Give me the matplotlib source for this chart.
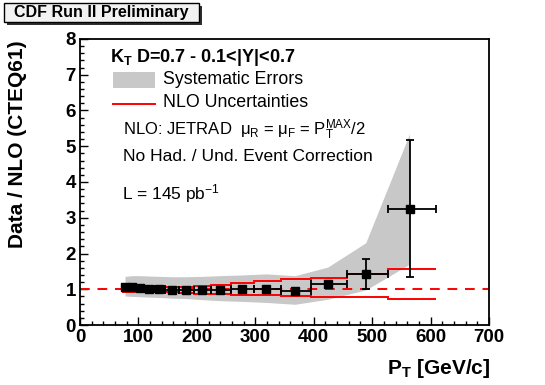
import numpy as np
import matplotlib
matplotlib.use('Agg')
import matplotlib.pyplot as plt
from matplotlib.patches import Rectangle
from matplotlib.lines import Line2D
from matplotlib.ticker import MultipleLocator

plt.rcParams['font.family'] = ['Liberation Sans', 'DejaVu Sans']
plt.rcParams['mathtext.fontset'] = 'custom'
plt.rcParams['mathtext.rm'] = 'Liberation Sans'
plt.rcParams['mathtext.it'] = 'Liberation Sans'
plt.rcParams['mathtext.bf'] = 'Liberation Sans:bold'

# Data
bin_edges = np.array([72, 83, 96, 110, 127, 146, 169, 195, 224, 259, 298, 344, 396, 457, 527, 609])
pt = np.array([77, 89, 103, 118, 136, 157, 181, 208, 240, 277, 319, 368, 424, 489, 564])
ratio = np.array([1.07, 1.05, 1.04, 1.02, 1.00, 0.99, 0.98, 0.99, 0.99, 1.00, 1.01, 0.94, 1.14, 1.43, 3.25])
stat_lo = np.array([0.02, 0.02, 0.02, 0.02, 0.02, 0.02, 0.02, 0.02, 0.02, 0.03, 0.03, 0.04, 0.06, 0.42, 1.90])
stat_hi = np.array([0.02, 0.02, 0.02, 0.02, 0.02, 0.02, 0.02, 0.02, 0.02, 0.03, 0.03, 0.04, 0.06, 0.42, 1.92])
sys_up = np.array([1.36, 1.38, 1.38, 1.37, 1.36, 1.35, 1.35, 1.36, 1.38, 1.40, 1.43, 1.38, 1.62, 2.30, 5.35])
sys_dn = np.array([0.81, 0.80, 0.79, 0.78, 0.77, 0.75, 0.74, 0.71, 0.68, 0.66, 0.63, 0.58, 0.72, 0.98, 1.70])
nlo_up = np.array([1.10, 1.09, 1.08, 1.07, 1.06, 1.06, 1.07, 1.09, 1.12, 1.17, 1.24, 1.28, 1.32, 1.43, 1.57])
nlo_dn = np.array([0.93, 0.93, 0.93, 0.92, 0.92, 0.91, 0.90, 0.88, 0.86, 0.84, 0.83, 0.80, 0.78, 0.77, 0.74])

W, H = 545, 385
fig = plt.figure(figsize=(W / 100, H / 100), dpi=100)
fig.patch.set_facecolor('white')
ax = fig.add_axes([80 / W, (H - 325) / H, 409 / W, 286 / H])

# Systematic band
ax.fill_between(pt, sys_dn, sys_up, color='#c8c8c8', lw=0, zorder=1)

# NLO uncertainty steps
ax.stairs(nlo_up, bin_edges, baseline=None, color='#ff0000', lw=1.4, zorder=2)
ax.stairs(nlo_dn, bin_edges, baseline=None, color='#ff0000', lw=1.4, zorder=2)

# Unity line
ax.axhline(1.0, color='#ff0000', lw=1.4, ls=(0, (5, 4)), zorder=2)

# Data points
xerr = [pt - bin_edges[:-1], bin_edges[1:] - pt]
ax.errorbar(pt, ratio, xerr=xerr, yerr=[stat_lo, stat_hi], fmt='s', color='black',
            ms=6, lw=1.3, capsize=3, capthick=1.3, zorder=3)

ax.set_xlim(0, 700)
ax.set_ylim(0, 8)
ax.xaxis.set_major_locator(MultipleLocator(100))
ax.xaxis.set_minor_locator(MultipleLocator(20))
ax.yaxis.set_major_locator(MultipleLocator(1))
ax.yaxis.set_minor_locator(MultipleLocator(0.2))
ax.tick_params(which='both', direction='in', top=False, right=False, width=1.0)
ax.tick_params(which='major', length=6)
ax.tick_params(which='minor', length=3)
ax.tick_params(axis='y', pad=3)
ax.tick_params(axis='x', pad=3)
for lab in ax.get_xticklabels() + ax.get_yticklabels():
    lab.set_fontsize(13.5)
    lab.set_fontweight('bold')
for s in ax.spines.values():
    s.set_linewidth(1.3)

# Axis titles
fig.text(18 / W, 1 - 40 / H, 'Data / NLO (CTEQ61)', rotation=90, ha='center', va='top',
         fontsize=15, fontweight='bold')
fig.text(490 / W, 1 - 368 / H, r'P$_\mathbf{T}$ [GeV/c]', ha='right', va='center',
         fontsize=15, fontweight='bold')

# Legend-like block
def axf(px, py):
    return (px - 80) / 409, (325 - py) / 286

x0, y0 = axf(110, 58)
ax.text(x0, y0, r'K$_\mathbf{T}$ D=0.7 - 0.1<|Y|<0.7', transform=ax.transAxes,
        ha='left', va='center', fontsize=13, fontweight='bold')

px0, py0 = axf(113, 88)
px1, py1 = axf(155, 72)
ax.add_patch(Rectangle((px0, py0), px1 - px0, py1 - py0, transform=ax.transAxes,
                       facecolor='#c8c8c8', edgecolor='none', clip_on=False))
tx, ty = axf(163, 80)
ax.text(tx, ty, 'Systematic Errors', transform=ax.transAxes, ha='left', va='center', fontsize=12.8)

lx0, ly = axf(113, 104)
lx1, _ = axf(155, 104)
ax.add_line(Line2D([lx0, lx1], [ly, ly], transform=ax.transAxes, color='#ff0000', lw=1.4))
tx, ty = axf(163, 103)
ax.text(tx, ty, 'NLO Uncertainties', transform=ax.transAxes, ha='left', va='center', fontsize=12.8)

tx, ty = axf(123, 130)
ax.text(tx, ty, r'NLO: JETRAD  $\mu_\mathrm{R}$ = $\mu_\mathrm{F}$ = P$_\mathrm{T}^\mathrm{MAX}$/2',
        transform=ax.transAxes, ha='left', va='center', fontsize=12)
tx, ty = axf(123, 157)
ax.text(tx, ty, 'No Had. / Und. Event Correction', transform=ax.transAxes,
        ha='left', va='center', fontsize=12.5)
tx, ty = axf(122, 194)
ax.text(tx, ty, r'L = 145 pb$^\mathrm{-1}$', transform=ax.transAxes,
        ha='left', va='center', fontsize=12.5)

# Title pave with shadow
fig.patches.append(Rectangle((7 / W, 1 - 25 / H), 195 / W, 19 / H, transform=fig.transFigure,
                             facecolor='#303030', edgecolor='none'))
fig.patches.append(Rectangle((4 / W, 1 - 22 / H), 195 / W, 19 / H, transform=fig.transFigure,
                             facecolor='#f2f2f2', edgecolor='black', lw=1.0))
fig.text(101 / W, 1 - 13 / H, 'CDF Run II Preliminary', ha='center', va='center',
         fontsize=11.5, fontweight='bold')

plt.savefig('out.png', dpi=100, facecolor='white')
plt.close()
